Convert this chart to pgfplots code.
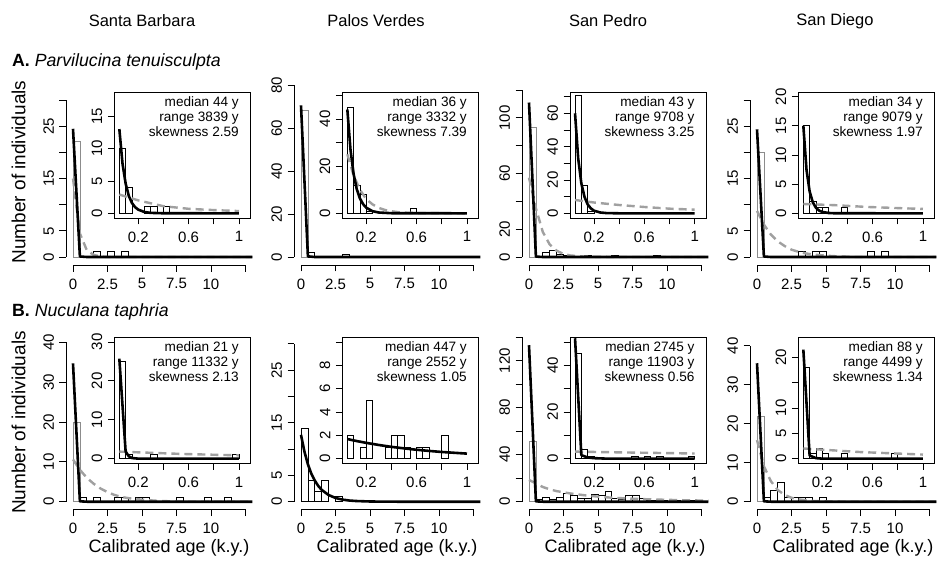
\documentclass[border=0pt]{standalone}
\usepackage{fontspec}
\setmainfont{Liberation Sans}
\usepackage{pgfplots}
\pgfplotsset{compat=1.18}

\definecolor{barg}{RGB}{140,140,140}
\definecolor{fitgray}{RGB}{160,160,160}
\newcommand\tk{\fontsize{15}{18}\selectfont}
\newcommand\insz{\fontsize{13.6}{15}\selectfont}
\newcommand\lab{\fontsize{18}{21}\selectfont}

\pgfplotsset{
  rbase/.style={
    scale only axis, anchor=south west, clip=false,
    tick align=outside, major tick length=6.5pt,
    every tick/.style={black, line width=0.8pt},
    tick label style={font=\tk},
    /pgf/number format/assume math mode=true,
    xticklabel style={yshift=-3.5pt},
    yticklabel style={rotate=90, anchor=south, yshift=2pt},
  },
  mainax/.style={
    rbase, width=172.5pt, xmin=0, xmax=12.5, ymin=0,
    axis x line*=bottom, axis y line*=left,
    axis line style={-, line width=0.8pt},
    axis x line shift=8pt, axis y line shift=7pt,
    xtick={0,2.5,5,7.5,10,12.5}, xticklabels={0,2.5,5,7.5,10,},
  },
  inax/.style={
    rbase, width=136pt, height=126pt, xmin=0.01, xmax=1.09,
    axis line style={line width=0.8pt},
    xtick pos=left, ytick pos=left,
    xtick={0.2,0.4,0.6,0.8,1}, xticklabels={0.2,,0.6,,1},
    axis background/.style={fill=white},
  },
  hb/.style={ybar, bar shift=0pt, fill=white, draw=black, line width=0.8pt},
  gb/.style={hb, draw=barg},
  fb/.style={black, line width=2.6pt, line join=round},
  fg/.style={fitgray, line width=2.4pt, dash pattern=on 8pt off 5pt},
}
\newcommand\stats[3]{\node[anchor=north east, align=right, font=\insz, inner sep=0pt]
  at (rel axis cs:0.9167,1) [yshift=-4pt] {median #1 y\\range #2 y\\skewness #3};}

\begin{document}
\begin{tikzpicture}
\path[use as bounding box] (0,0) rectangle (940pt,563pt);

% headers and titles
\node[font=\fontsize{16.5}{19}\selectfont] at (142pt,542pt) {Santa Barbara};
\node[font=\fontsize{16.5}{19}\selectfont] at (376pt,542pt) {Palos Verdes};
\node[font=\fontsize{16.5}{19}\selectfont] at (608pt,542pt) {San Pedro};
\node[font=\fontsize{16.5}{19}\selectfont] at (835pt,542pt) {San Diego};
\node[anchor=west, font=\fontsize{17.7}{20}\selectfont, inner sep=0pt] at (12pt,501pt) {\textbf{A.} \textit{Parvilucina tenuisculpta}};
\node[anchor=west, font=\fontsize{17.7}{20}\selectfont, inner sep=0pt] at (12pt,251pt) {\textbf{B.} \textit{Nuculana taphria}};
\node[rotate=90, font=\fontsize{19}{22}\selectfont] at (18.5pt,391pt) {Number of individuals};
\node[rotate=90, font=\fontsize{19}{22}\selectfont] at (18.5pt,140.5pt) {Number of individuals};
\node[font=\lab] at (169pt,15pt) {Calibrated age (k.y.)};
\node[font=\lab] at (397pt,15pt) {Calibrated age (k.y.)};
\node[font=\lab] at (625pt,15pt) {Calibrated age (k.y.)};
\node[font=\lab] at (853pt,15pt) {Calibrated age (k.y.)};

%% ---------- row A ----------
% A1 Santa Barbara
\begin{axis}[mainax, at={(73pt,306pt)}, height=157pt, ymax=30,
  ytick={0,5,...,30}, yticklabels={0,5,,15,,25,}]
\addplot[gb, bar width=0.5] coordinates {(0.25,22)};
\addplot[hb, bar width=0.5] coordinates {(1.75,1)(2.75,1)(3.75,1)};
\addplot[fg] coordinates {(0,15)(0.5,4.5)(1,1.3)(1.5,0.4)(2,0.1)(2.5,0)(13,0)};
\addplot[fb] coordinates {(0,24.5)(0.5,0.1)(1,0)(13,0)};
\end{axis}
\begin{axis}[inax, at={(114.3pt,345pt)}, ymin=-0.72, ymax=18.72, ytick={0,5,10,15}]
\addplot[hb, bar width=0.05] coordinates {(0.075,10)(0.125,4)(0.275,1)(0.325,1)(0.425,1)};
\addplot[fg] coordinates {(0.05,2.9)(0.2,2.0)(0.4,1.1)(0.6,0.7)(0.8,0.5)(1.0,0.35)};
\addplot[fb] coordinates {(0.05,13)(0.075,7.7)(0.1,4.6)(0.125,2.7)(0.15,1.6)(0.175,0.96)(0.2,0.57)(0.25,0.2)(0.3,0.07)(0.4,0.01)(1.0,0)};
\stats{44}{3839}{2.59}
\end{axis}

% A2 Palos Verdes
\begin{axis}[mainax, at={(301pt,306pt)}, height=172pt, ymax=80,
  ytick={0,20,...,80}]
\addplot[gb, bar width=0.5] coordinates {(0.25,68)};
\addplot[hb, bar width=0.5] coordinates {(0.75,2)(3.25,1)};
\addplot[fb] coordinates {(0,70.5)(0.5,0.3)(1,0)(13,0)};
\end{axis}
\begin{axis}[inax, at={(342.3pt,345pt)}, ymin=-1.98, ymax=51.4,
  ytick={0,10,...,50}, yticklabels={0,,20,,40,}]
\addplot[hb, bar width=0.05] coordinates {(0.075,45)(0.125,12)(0.175,8)(0.225,1)(0.575,2)};
\addplot[fg] coordinates {(0.05,25)(0.1,16)(0.15,10)(0.2,6)(0.25,3.8)(0.3,2.3)(0.35,1.4)(0.4,0.9)(0.45,0.5)(0.5,0.3)(0.6,0.1)(1.0,0)};
\addplot[fb] coordinates {(0.05,44)(0.075,27)(0.1,16.6)(0.125,10.2)(0.15,6.3)(0.175,3.9)(0.2,2.4)(0.25,0.9)(0.3,0.34)(0.4,0.05)(1.0,0)};
\stats{36}{3332}{7.39}
\end{axis}

% A3 San Pedro
\begin{axis}[mainax, at={(529pt,306pt)}, height=167pt, ymax=120,
  ytick={0,20,...,120}, yticklabels={0,20,,60,,100,}]
\addplot[gb, bar width=0.5] coordinates {(0.25,93)};
\addplot[hb, bar width=0.5] coordinates {(1.25,3)(1.75,5)(2.25,2)(2.75,1)(4.25,1)(6.25,1)(9.25,1)};
\addplot[fg] coordinates {(0,57)(0.5,35)(1,18)(1.5,9)(2,4.5)(2.5,2.2)(3,1.1)(4,0.3)(5,0.1)(6,0)(13,0)};
\addplot[fb] coordinates {(0,111)(0.5,0.3)(1,0)(13,0)};
\end{axis}
\begin{axis}[inax, at={(570pt,345pt)}, ymin=-2.8, ymax=72.8,
  ytick={0,10,...,70}, yticklabels={0,,20,,40,,60,}]
\addplot[hb, bar width=0.05] coordinates {(0.075,71)(0.125,17)(0.175,1)};
\addplot[fg] coordinates {(0.05,8)(0.2,6.5)(0.4,5)(0.6,3.8)(0.8,2.8)(1.0,2.2)};
\addplot[fb] coordinates {(0.05,60)(0.075,33)(0.1,18)(0.125,9.9)(0.15,5.4)(0.175,3)(0.2,1.6)(0.25,0.5)(0.3,0.15)(0.4,0.01)(1.0,0)};
\stats{43}{9708}{3.25}
\end{axis}

% A4 San Diego
\begin{axis}[mainax, at={(757pt,306pt)}, height=157pt, ymax=30,
  ytick={0,5,...,30}, yticklabels={0,5,,15,,25,}]
\addplot[gb, bar width=0.5] coordinates {(0.25,20)};
\addplot[hb, bar width=0.5] coordinates {(3.25,1)(4.25,1)(4.75,1)(8.25,1)(9.25,1)};
\addplot[fg] coordinates {(0,8.8)(0.5,6.2)(1,4.3)(1.5,3)(2,2.1)(2.5,1.4)(3,1)(3.5,0.7)(4,0.5)(5,0.25)(6,0.1)(7,0)(13,0)};
\addplot[fb] coordinates {(0,24.4)(0.5,0.1)(1,0)(13,0)};
\end{axis}
\begin{axis}[inax, at={(798.3pt,345pt)}, ymin=-0.8, ymax=20.8, ytick={0,5,...,20}]
\addplot[hb, bar width=0.05] coordinates {(0.075,15)(0.125,2)(0.175,1)(0.225,1)(0.375,1)};
\addplot[fg] coordinates {(0.05,1.6)(0.3,1.4)(0.55,1.1)(0.8,0.9)(1.0,0.75)};
\addplot[fb] coordinates {(0.05,15)(0.075,7.5)(0.1,3.75)(0.125,1.9)(0.15,0.94)(0.175,0.47)(0.2,0.24)(0.25,0.06)(0.3,0.01)(1.0,0)};
\stats{34}{9079}{1.97}
\end{axis}

%% ---------- row B ----------
% B1 Santa Barbara
\begin{axis}[mainax, at={(73pt,61.3pt)}, height=159.4pt, ymax=40,
  ytick={0,10,...,40}]
\addplot[gb, bar width=0.5] coordinates {(0.25,20)};
\addplot[hb, bar width=0.5] coordinates {(0.75,1)(1.75,1)(3.25,1)(3.75,1)(4.75,1)(5.25,1)(7.75,1)(9.75,1)(11.25,1)};
\addplot[fg] coordinates {(0,10.6)(0.5,8)(1,6)(1.5,4.5)(2,3.3)(2.5,2.4)(3,1.7)(3.5,1.2)(4,0.9)(5,0.5)(6,0.25)(7,0.1)(8,0)(13,0)};
\addplot[fb] coordinates {(0,34.7)(0.5,0.1)(1,0)(13,0)};
\end{axis}
\begin{axis}[inax, at={(114.3pt,99.7pt)}, ymin=-1.2, ymax=31.2, ytick={0,10,20,30}]
\addplot[hb, bar width=0.05] coordinates {(0.075,25)(0.125,1)(0.325,1)(0.975,1)};
\addplot[fg] coordinates {(0.05,1.8)(0.3,1.5)(0.55,1.2)(0.8,1.0)(1.0,0.85)};
\addplot[fb] coordinates {(0.05,25.7)(0.1,1.8)(0.125,0.6)(0.15,0.15)(0.2,0)(1.0,0)};
\stats{21}{11332}{2.13}
\end{axis}

% B2 Palos Verdes
\begin{axis}[mainax, at={(301pt,61.3pt)}, height=158pt, ymax=30,
  ytick={0,5,...,30}, yticklabels={0,5,,15,,25,}]
\addplot[hb, bar width=0.5] coordinates {(0.25,14)(0.75,4)(1.25,2)(1.75,4)(2.75,1)};
\addplot[fb] coordinates {(0,12.7)(0.25,9.5)(0.5,7.1)(0.75,5.3)(1,4.0)(1.25,3.0)(1.5,2.25)(2,1.27)(2.5,0.71)(3,0.4)(3.5,0.22)(4,0.13)(5,0.04)(6,0.01)(7,0)(13,0)};
\end{axis}
\begin{axis}[inax, at={(342.3pt,99.7pt)}, ymin=-0.4, ymax=10.4,
  ytick={0,2,...,10}, yticklabels={0,2,4,6,8,}]
\addplot[hb, bar width=0.05] coordinates {(0.075,2)(0.175,1)(0.225,5)(0.375,1)(0.425,2)(0.475,2)(0.525,1)(0.625,1)(0.675,1)(0.825,2)};
\addplot[fb] coordinates {(0.05,1.68)(0.1,1.56)(0.2,1.35)(0.3,1.17)(0.4,1.01)(0.5,0.88)(0.6,0.76)(0.7,0.66)(0.8,0.57)(0.9,0.50)(1.0,0.43)};
\stats{447}{2552}{1.05}
\end{axis}

% B3 San Pedro
\begin{axis}[mainax, at={(529pt,61.3pt)}, height=164.7pt, ymax=140,
  ytick={0,20,...,140}, yticklabels={0,,40,,80,,120,}]
\addplot[gb, bar width=0.5] coordinates {(0.25,51)};
\addplot[hb, bar width=0.5] coordinates {(0.75,2)(1.25,4)(1.75,2)(2.25,4)(2.75,7)(3.25,5)(3.75,3)(4.25,3)(4.75,6)(5.25,5)(5.75,9)(6.25,3)(6.75,2)(7.25,5)(7.75,5)(8.25,3)(8.75,1)(9.25,1)(9.75,1)(10.75,1)(11.75,1)};
\addplot[fg] coordinates {(0,18.5)(0.5,15.5)(1,12.5)(1.5,10.5)(2,9)(3,7)(4,5.5)(5,4.3)(6,3.4)(7,2.8)(8,2.3)(9,1.9)(10,1.6)(11,1.3)(12,1.1)(13,0.9)};
\addplot[fb] coordinates {(0,133)(0.5,0.3)(1,0)(13,0)};
\end{axis}
\begin{axis}[inax, at={(570pt,99.7pt)}, ymin=-2, ymax=52,
  ytick={0,10,...,50}, yticklabels={0,,20,,40,}]
\addplot[hb, bar width=0.05] coordinates {(0.075,45)(0.125,4)(0.175,1)(0.525,1)(0.625,1)(0.725,1)(0.975,1)};
\addplot[fg] coordinates {(0.05,3.0)(0.5,2.6)(1.0,2.2)};
\addplot[fb] coordinates {(0.05,51.6)(0.1,1.5)(0.15,0.5)(0.2,0.2)(0.3,0)(1.0,0)};
\stats{2745}{11903}{0.56}
\end{axis}

% B4 San Diego
\begin{axis}[mainax, at={(757pt,61.3pt)}, height=156pt, ymax=40,
  ytick={0,10,...,40}]
\addplot[gb, bar width=0.5] coordinates {(0.25,22)};
\addplot[hb, bar width=0.5] coordinates {(0.75,1)(1.25,3)(1.75,5)(2.25,1)(2.75,1)(3.25,1)(3.75,1)(4.75,1)};
\addplot[fg] coordinates {(0,15.8)(0.5,9.1)(1,5.3)(1.5,3.0)(2,1.75)(2.5,1.0)(3,0.6)(4,0.2)(5,0.07)(6,0)(13,0)};
\addplot[fb] coordinates {(0,35.5)(0.5,0.1)(1,0)(13,0)};
\end{axis}
\begin{axis}[inax, at={(798.3pt,99.7pt)}, ymin=-0.92, ymax=23.92,
  ytick={0,5,...,20}, yticklabels={0,5,10,,20}]
\addplot[hb, bar width=0.05] coordinates {(0.075,18)(0.125,1)(0.175,2)(0.225,1)(0.375,1)(0.775,1)};
\addplot[fg] coordinates {(0.05,2.0)(0.5,1.3)(1.0,0.8)};
\addplot[fb] coordinates {(0.05,21.5)(0.1,0.6)(0.15,0.1)(0.2,0)(1.0,0)};
\stats{88}{4499}{1.34}
\end{axis}

\end{tikzpicture}
\end{document}
